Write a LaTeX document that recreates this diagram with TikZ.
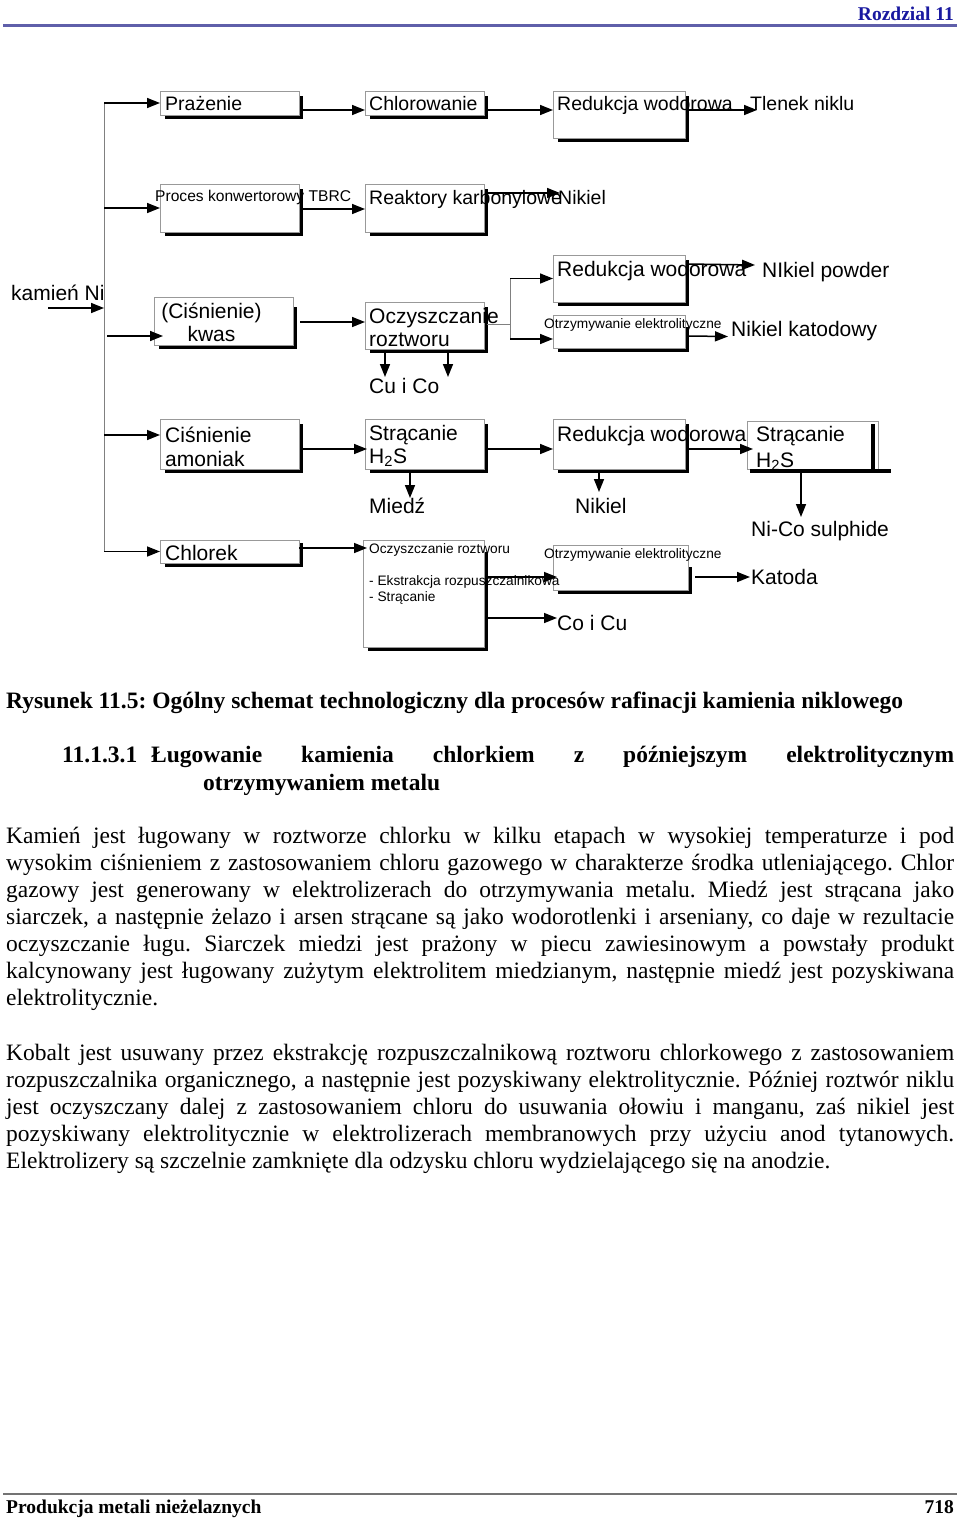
\documentclass[tikz,border=0pt]{standalone}
\usepackage{fontspec}
\setmainfont{Liberation Serif}
\newfontfamily\diagfont{Liberation Sans}
\usepackage{tikz}
\usetikzlibrary{arrows.meta, calc}

\newcommand\jline[1]{\makebox[948pt][s]{#1}}
\frenchspacing

\begin{document}
\begin{tikzpicture}[x=1pt, y=-1pt]
  \colorlet{boxline}{black!40}
  \colorlet{spinecol}{black!50}
  \definecolor{headblue}{RGB}{25,25,160}
  \definecolor{ruleblue}{RGB}{95,95,170}

  \tikzset{
    stage/.style n args={2}{
      rectangle, draw=boxline, line width=0.8pt, fill=white,
      anchor=north west, inner sep=0pt, outer sep=0pt,
      minimum width=#1, minimum height=#2
    },
    lbl/.style={anchor=base west, inner sep=0pt, font=\diagfont\fontsize{21}{24}\selectfont},
    lblrow/.style={lbl, font=\diagfont\fontsize{19.5}{22}\selectfont},
    lblmid/.style={lbl, font=\diagfont\fontsize{15.6}{18}\selectfont},
    lblsmall/.style={lbl, font=\diagfont\fontsize{13.7}{16}\selectfont},
    shadowline/.style={line width=3.8pt, black},
    arr/.style={-{Triangle[length=13pt, width=10pt]}, line width=1.5pt, black},
    feed/.style={line width=0.8pt, color=spinecol},
    pagetext/.style={anchor=base west, inner sep=0pt, font=\fontsize{23.5}{27}\selectfont},
    pagebold/.style={pagetext, font=\bfseries\fontsize{23.5}{27}\selectfont},
    runhead/.style={inner sep=0pt, font=\bfseries\fontsize{19.5}{22}\selectfont},
    para/.style={anchor=north west, inner sep=0pt, align=left, font=\fontsize{23.5}{27}\selectfont}
  }

  \useasboundingbox (0,0) rectangle (960,1518);
  \fill[white] (0,0) rectangle (960,1518);

  % running head and foot
  \node[runhead, anchor=base east, text=headblue] (chapter) at (954,20.5) {Rozdzial 11};
  \draw[ruleblue, line width=2.5pt] (3,25.5) -- (957,25.5);
  \draw[black!55, line width=2pt] (3,1494) -- (957,1494);
  \node[runhead, anchor=base west] (book) at (6,1513.5) {Produkcja metali nieżelaznych};
  \node[runhead, anchor=base east] (pageno) at (954,1513.5) {718};

  % process boxes
  \node[stage={139pt}{24pt}] (prazBox) at (160,91) {};
  \node[stage={119pt}{24pt}] (chlorBox) at (365,91) {};
  \node[stage={132pt}{47pt}] (redA) at (553,91) {};
  \node[stage={139pt}{48pt}] (tbrcBox) at (160,184) {};
  \node[stage={119pt}{48pt}] (karbBox) at (365,184) {};
  \node[stage={139pt}{48pt}] (kwasBox) at (154,297) {};
  \node[stage={119pt}{47pt}] (oczA) at (365,302) {};
  \node[stage={132pt}{47pt}] (redB) at (553,255) {};
  \node[stage={132pt}{33pt}] (eleA) at (553,315) {};
  \node[stage={139pt}{50pt}] (amonBox) at (160,419) {};
  \node[stage={119pt}{50pt}] (stracA) at (365,419) {};
  \node[stage={132pt}{50pt}] (redC) at (553,419) {};
  \node[stage={131pt}{48pt}] (stracB) at (747,421) {};
  \node[stage={139pt}{23pt}] (chlorekBox) at (160,540) {};
  \node[stage={121pt}{107pt}] (oczB) at (363,540) {};
  \node[stage={135pt}{45pt}] (eleB) at (553,545) {};

  % labels
  \node[lblrow] (prazT) at (165,110) {Prażenie};
  \node[lblrow] (chlorT) at (369,110) {Chlorowanie};
  \node[lblrow] (redAT) at (557,110) {Redukcja wodorowa};
  \node[lblrow] (tlenek) at (750,110) {Tlenek niklu};
  \node[lblmid] (tbrcT) at (155,201) {Proces konwertorowy TBRC};
  \node[lblrow] (karbT) at (369,204) {Reaktory karbonylowe};
  \node[lblrow] (nikielA) at (558,204) {Nikiel};
  \node[lbl] (oreT) at (11,300.5) {kamień Ni};
  \node[lbl, anchor=base] (kwasT1) at (211.5,318) {(Ciśnienie)};
  \node[lbl, anchor=base] (kwasT2) at (211.5,341) {kwas};
  \node[lbl] (oczAT1) at (369,323) {Oczyszczanie};
  \node[lbl] (oczAT2) at (369,346.5) {roztworu};
  \node[lbl] (cuco) at (369,393) {Cu i Co};
  \node[lbl] (redBT) at (557,276.5) {Redukcja wodorowa};
  \node[lbl] (powder) at (762,277) {NIkiel powder};
  \node[lblsmall] (eleAT) at (544,328.5) {Otrzymywanie elektrolityczne};
  \node[lbl] (katodowy) at (731,336.5) {Nikiel katodowy};
  \node[lbl] (amonT1) at (165,442) {Ciśnienie};
  \node[lbl] (amonT2) at (165,466) {amoniak};
  \node[lbl] (stracAT1) at (369,440) {Strącanie};
  \node[lbl] (stracAT2) at (369,463) {H\textsubscript{2}S};
  \node[lbl] (miedz) at (369,513) {Miedź};
  \node[lbl] (redCT) at (557,441.5) {Redukcja wodorowa};
  \node[lbl] (nikielB) at (575,513) {Nikiel};
  \node[lbl] (stracBT1) at (756,441.5) {Strącanie};
  \node[lbl] (stracBT2) at (756,467) {H\textsubscript{2}S};
  \node[lbl] (nicos) at (751,536.5) {Ni-Co sulphide};
  \node[lbl] (chlorekT) at (165,560.5) {Chlorek};
  \node[lblsmall] (oczBT1) at (369,553) {Oczyszczanie roztworu};
  \node[lblsmall] (oczBT2) at (369,585) {- Ekstrakcja rozpuszczalnikowa};
  \node[lblsmall] (oczBT3) at (369,601) {- Strącanie};
  \node[lbl] (coicu) at (557,630.5) {Co i Cu};
  \node[lblsmall] (eleBT) at (544,558) {Otrzymywanie elektrolityczne};
  \node[lbl] (katoda) at (751,584.5) {Katoda};

  % box shadows
  \foreach \b/\off in {prazBox/5, chlorBox/5, redA/5, tbrcBox/5, karbBox/5, kwasBox/10,
      oczA/5, redB/5, eleA/12, amonBox/5, stracA/5, redC/5, chlorekBox/3, oczB/12, eleB/22}
    \draw[shadowline] ($(\b.south west)+(5,2.5)$) -| ($(\b.north east)+(2.5,\off)$);
  \draw[shadowline] ($(stracB.south west)+(3,2)$) -- ($(stracB.south east)+(13,2)$);
  \draw[shadowline] ($(stracB.south east)+(-5,2)$) -- ($(stracB.north east)+(-5,3)$);

  % feed line from the ore
  \coordinate (spineTop) at (104,103);
  \coordinate (oreIn) at (48,308);
  \coordinate (split) at (510,324);
  \draw[feed] (spineTop) -- (spineTop |- chlorekBox.west);
  \draw[arr] (oreIn) -- (oreIn -| spineTop);
  \draw[arr] (spineTop) -- (prazBox.west);
  \draw[arr] (spineTop |- tbrcBox.west) -- (tbrcBox.west);
  \draw[arr] ($(spineTop |- kwasBox.south west)+(3,-9)$) -- ($(kwasBox.south west)+(9,-9)$);
  \draw[arr] ($(spineTop |- amonBox.north west)+(0,16)$) -- ($(amonBox.north west)+(0,16)$);
  \draw[arr] (spineTop |- chlorekBox.west) -- (chlorekBox.west);

  % row 1 and 2
  \draw[arr] ($(prazBox.south east)+(2.5,-5)$) -- ($(chlorBox.south west)+(0,-5)$);
  \draw[arr] ($(chlorBox.south east)+(2.5,-5)$) -- ($(redA.north west)+(0,19)$);
  \draw[arr] ($(redA.north east)+(2.5,19)$) -- ($(tlenek.base west)+(7,0)$);
  \draw[arr] ($(tbrcBox.north east)+(2.5,25)$) -- ($(karbBox.north west)+(0,25)$);
  \draw[arr] ($(karbBox.north east)+(2.5,9)$) -- ($(nikielA.base west)+(2,-11)$);

  % row 3
  \draw[arr] ($(kwasBox.east)+(7,1)$) -- ($(oczA.north west)+(0,20)$);
  \draw[feed] ($(oczA.north east)+(2.5,22)$) -- (split);
  \draw[feed] (split |- redB.west) -- ($(split |- eleA.west)+(0,7.5)$);
  \draw[arr] (split |- redB.west) -- (redB.west);
  \draw[arr] ($(split |- eleA.west)+(0,7.5)$) -- ($(eleA.west)+(0,7.5)$);
  \draw[arr] ($(oczA.south west)+(20,3)$) -- ++(0,25);
  \draw[arr] ($(oczA.south west)+(83,3)$) -- ++(0,25);
  \draw[arr] ($(redB.north east)+(2.5,9)$) -- ($(powder.base west)+(-7,-12)$);
  \draw[arr] ($(eleA.north east)+(2.5,21)$) -- ($(katodowy.base west)+(-3,0)$);

  % row 4
  \draw[arr] ($(amonBox.north east)+(3,30)$) -- ($(stracA.north west)+(2,30)$);
  \draw[arr] ($(stracA.north east)+(2.5,30)$) -- ($(redC.north west)+(0,30)$);
  \draw[arr] ($(redC.north east)+(2.5,30)$) -- ($(stracB.north west)+(6,28)$);
  \draw[arr] ($(stracA.south west)+(45,3)$) -- ++(0,26);
  \draw[arr] ($(redC.south west)+(46,3)$) -- ++(0,20);
  \draw[arr] ($(stracB.south west)+(54,3)$) -- ++(0,45);

  % row 5
  \draw[arr] ($(chlorekBox.east)+(0,-3.5)$) -- ($(oczB.north west)+(4,8)$);
  \draw[arr] ($(oczB.north east)+(2.5,37)$) -- ($(eleB.north west)+(4,32)$);
  \draw[arr] ($(oczB.north east)+(2.5,78)$) -- ($(coicu.base west)+(0,-12.5)$);
  \draw[arr] ($(eleB.north east)+(7,32)$) -- ($(katoda.base west)+(-1,-7.5)$);

  % caption, heading and body text
  \node[pagebold] (caption) at (6,708) {Rysunek 11.5: Ogólny schemat technologiczny dla procesów rafinacji kamienia niklowego};
  \node[pagebold] (secnum) at (62,762) {11.1.3.1};
  \node[pagebold] (sectitle) at (151,762) {\makebox[803pt][s]{Ługowanie kamienia chlorkiem z późniejszym elektrolitycznym}};
  \node[pagebold] (sectitleB) at (203,790) {otrzymywaniem metalu};

  \node[para] (parA) at (6,824.1) {%
    \strut\jline{Kamień jest ługowany w roztworze chlorku w kilku etapach w wysokiej temperaturze i pod}\\
    \jline{wysokim ciśnieniem z zastosowaniem chloru gazowego w charakterze środka utleniającego. Chlor}\\
    \jline{gazowy jest generowany w elektrolizerach do otrzymywania metalu. Miedź jest strącana jako}\\
    \jline{siarczek, a następnie żelazo i arsen strącane są jako wodorotlenki i arseniany, co daje w rezultacie}\\
    \jline{oczyszczanie ługu. Siarczek miedzi jest prażony w piecu zawiesinowym a powstały produkt}\\
    \jline{kalcynowany jest ługowany zużytym elektrolitem miedzianym, następnie miedź jest pozyskiwana}\\
    elektrolitycznie.};
  \node[para] (parB) at (6,1041.1) {%
    \strut\jline{Kobalt jest usuwany przez ekstrakcję rozpuszczalnikową roztworu chlorkowego z zastosowaniem}\\
    \jline{rozpuszczalnika organicznego, a następnie jest pozyskiwany elektrolitycznie. Później roztwór niklu}\\
    \jline{jest oczyszczany dalej z zastosowaniem chloru do usuwania ołowiu i manganu, zaś nikiel jest}\\
    \jline{pozyskiwany elektrolitycznie w elektrolizerach membranowych przy użyciu anod tytanowych.}\\
    Elektrolizery są szczelnie zamknięte dla odzysku chloru wydzielającego się na anodzie.};
\end{tikzpicture}
\end{document}
